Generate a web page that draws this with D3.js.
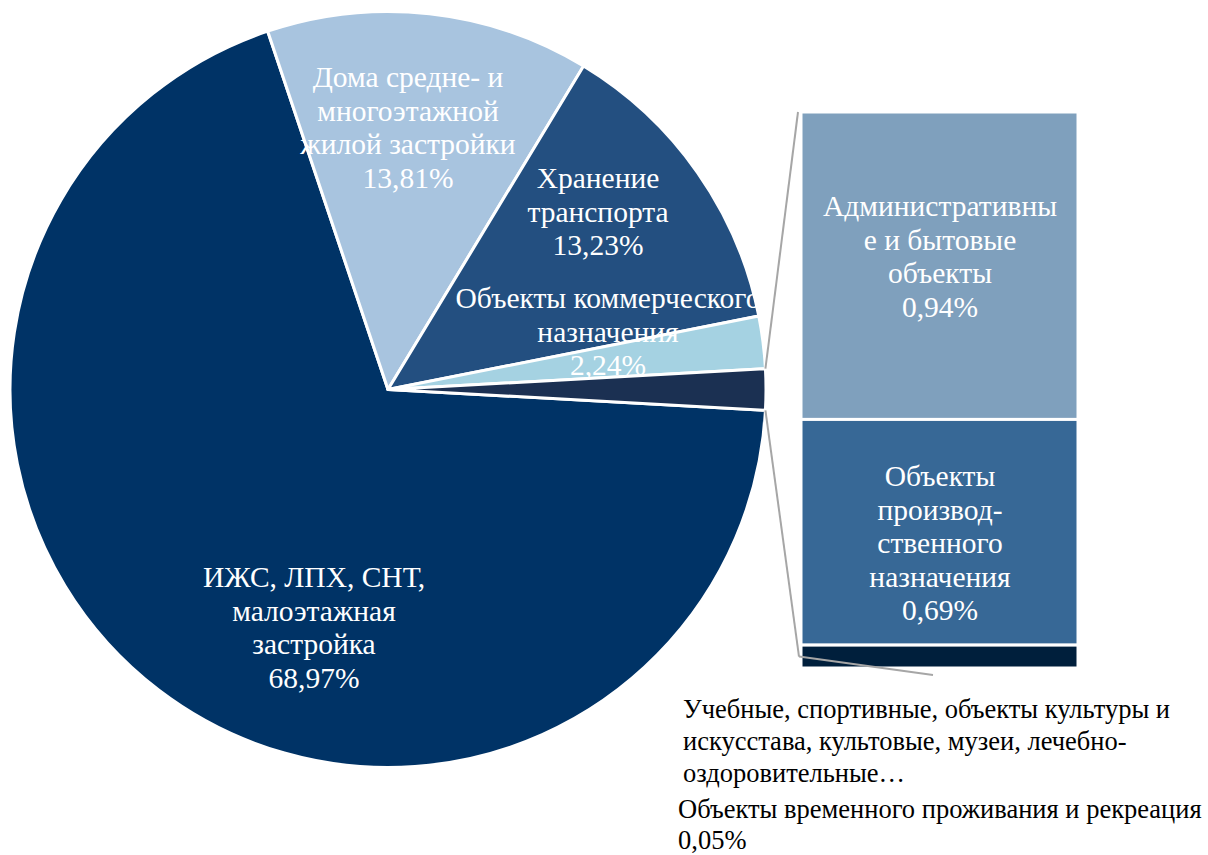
<!DOCTYPE html>
<html>
<head>
<meta charset="utf-8">
<script src="https://cdn.jsdelivr.net/npm/d3@7"></script>
<style>
  body { margin: 0; background: #fff; }
</style>
</head>
<body>
<div id="chart"></div>
<script>
// pie slices (main circle)
const pieNames = ["ИЖС, ЛПХ, СНТ, малоэтажная застройка", "Дома средне- и многоэтажной жилой застройки", "Хранение транспорта", "Объекты коммерческого назначения"];
const pieValues = [68.97, 13.81, 13.23, 2.24];
const pieColors = ["#003366", "#a8c4df", "#234f80", "#a5d2e2"];
const otherColor = "#1b3052";

// bar of pie (secondary)
const barNames = ["Административные и бытовые объекты", "Объекты производ-ственного назначения", "Учебные, спортивные, объекты культуры и искусстава, культовые, музеи, лечебно-оздоровительные…"];
const barValues = [0.94, 0.69, 0.07];
const barColors = ["#7fa0bd", "#376896", "#001f3c"];

// extra label-only item
const tinyName = "Объекты временного проживания и рекреация";
const tinyValue = 0.05;

const fmt = (v) => v.toFixed(2).replace(".", ",") + "%";
const serif = "'Liberation Serif', Tinos, 'Times New Roman', 'DejaVu Serif', serif";

const W = 1208, H = 855;
const cx = 388, cy = 389.5, R = 378;

const svg = d3.select("#chart").append("svg")
  .attr("width", W).attr("height", H)
  .style("font-family", serif);

const otherValue = d3.sum(barValues) + tinyValue;
const allValues = pieValues.concat([otherValue]);
const total = d3.sum(allValues);
const otherAngle = otherValue / total * 2 * Math.PI;

const pie = d3.pie().sort(null)
  .startAngle(Math.PI / 2 + otherAngle / 2)
  .endAngle(Math.PI / 2 + otherAngle / 2 + 2 * Math.PI);
const arcs = pie(allValues);
const arc = d3.arc().innerRadius(0).outerRadius(R);

const g = svg.append("g").attr("transform", `translate(${cx},${cy})`);
g.selectAll("path").data(arcs).join("path")
  .attr("d", arc)
  .attr("fill", (d, i) => i < pieColors.length ? pieColors[i] : otherColor)
  .attr("stroke", "#fff")
  .attr("stroke-width", 3)
  .attr("stroke-linejoin", "round");

// bar
const barX = 801, barW = 277, barTop = 112, barBottom = 668;
const y = d3.scaleLinear().domain([0, d3.sum(barValues)]).range([barTop, barBottom]);
const cum = d3.cumsum(barValues);
const segs = barValues.map((v, i) => ({ v, i, y0: cum[i] - v, y1: cum[i] }));

svg.selectAll("rect.seg").data(segs).join("rect")
  .attr("class", "seg")
  .attr("x", barX).attr("width", barW)
  .attr("y", (d) => y(d.y0))
  .attr("height", (d) => y(d.y1) - y(d.y0))
  .attr("fill", (d) => barColors[d.i])
  .attr("stroke", "#fff").attr("stroke-width", 3);

// connector lines
const otherArc = arcs[arcs.length - 1];
const pt = (a) => [cx + R * Math.sin(a), cy - R * Math.cos(a)];
const last = segs[segs.length - 1];
const [tx, ty] = pt(otherArc.startAngle);
const [bx, by] = pt(otherArc.endAngle);
const lineColor = "#a6a6a6";
svg.append("line").attr("x1", tx).attr("y1", ty).attr("x2", barX - 3).attr("y2", barTop)
  .attr("stroke", lineColor).attr("stroke-width", 2);
svg.append("line").attr("x1", bx).attr("y1", by).attr("x2", barX - 2).attr("y2", (y(last.y0) + y(last.y1)) / 2)
  .attr("stroke", lineColor).attr("stroke-width", 2);
// leader line for the small segment
svg.append("line").attr("x1", barX - 2).attr("y1", (y(last.y0) + y(last.y1)) / 2)
  .attr("x2", 933).attr("y2", 675)
  .attr("stroke", lineColor).attr("stroke-width", 2);

// labels
function label(lines, x, y0, color, fs, anchor, lh) {
  lh = lh || 33.5;
  const t = svg.append("text")
    .attr("x", x).attr("y", y0)
    .attr("fill", color)
    .attr("font-family", serif)
    .attr("font-size", fs)
    .attr("text-anchor", anchor || "middle")
    .attr("dominant-baseline", "central");
  lines.forEach((s, k) => {
    t.append("tspan").attr("x", x).attr("y", y0 + k * lh).text(s);
  });
}

const inFs = 29.5, outFs = 26.5;
label(["ИЖС, ЛПХ, СНТ,", "малоэтажная", "застройка", fmt(pieValues[0])], 314, 577, "#fff", inFs);
label(["Дома средне- и", "многоэтажной", "жилой застройки", fmt(pieValues[1])], 408, 77, "#fff", inFs);
label(["Хранение", "транспорта", fmt(pieValues[2])], 598, 178, "#fff", inFs);
label(["Объекты коммерческого", "назначения", fmt(pieValues[3])], 608, 298, "#fff", inFs);

label(["Административны", "е и бытовые", "объекты", fmt(barValues[0])], 940, 206, "#fff", inFs);
label(["Объекты", "производ-", "ственного", "назначения", fmt(barValues[1])], 940, 476, "#fff", inFs);

label(["Учебные, спортивные, объекты культуры и", "искусстава, культовые, музеи, лечебно-", "оздоровительные…"], 683, 709, "#000", outFs, "start", 32);
label([tinyName, fmt(tinyValue)], 678, 809, "#000", outFs, "start", 31);
</script>
</body>
</html>
